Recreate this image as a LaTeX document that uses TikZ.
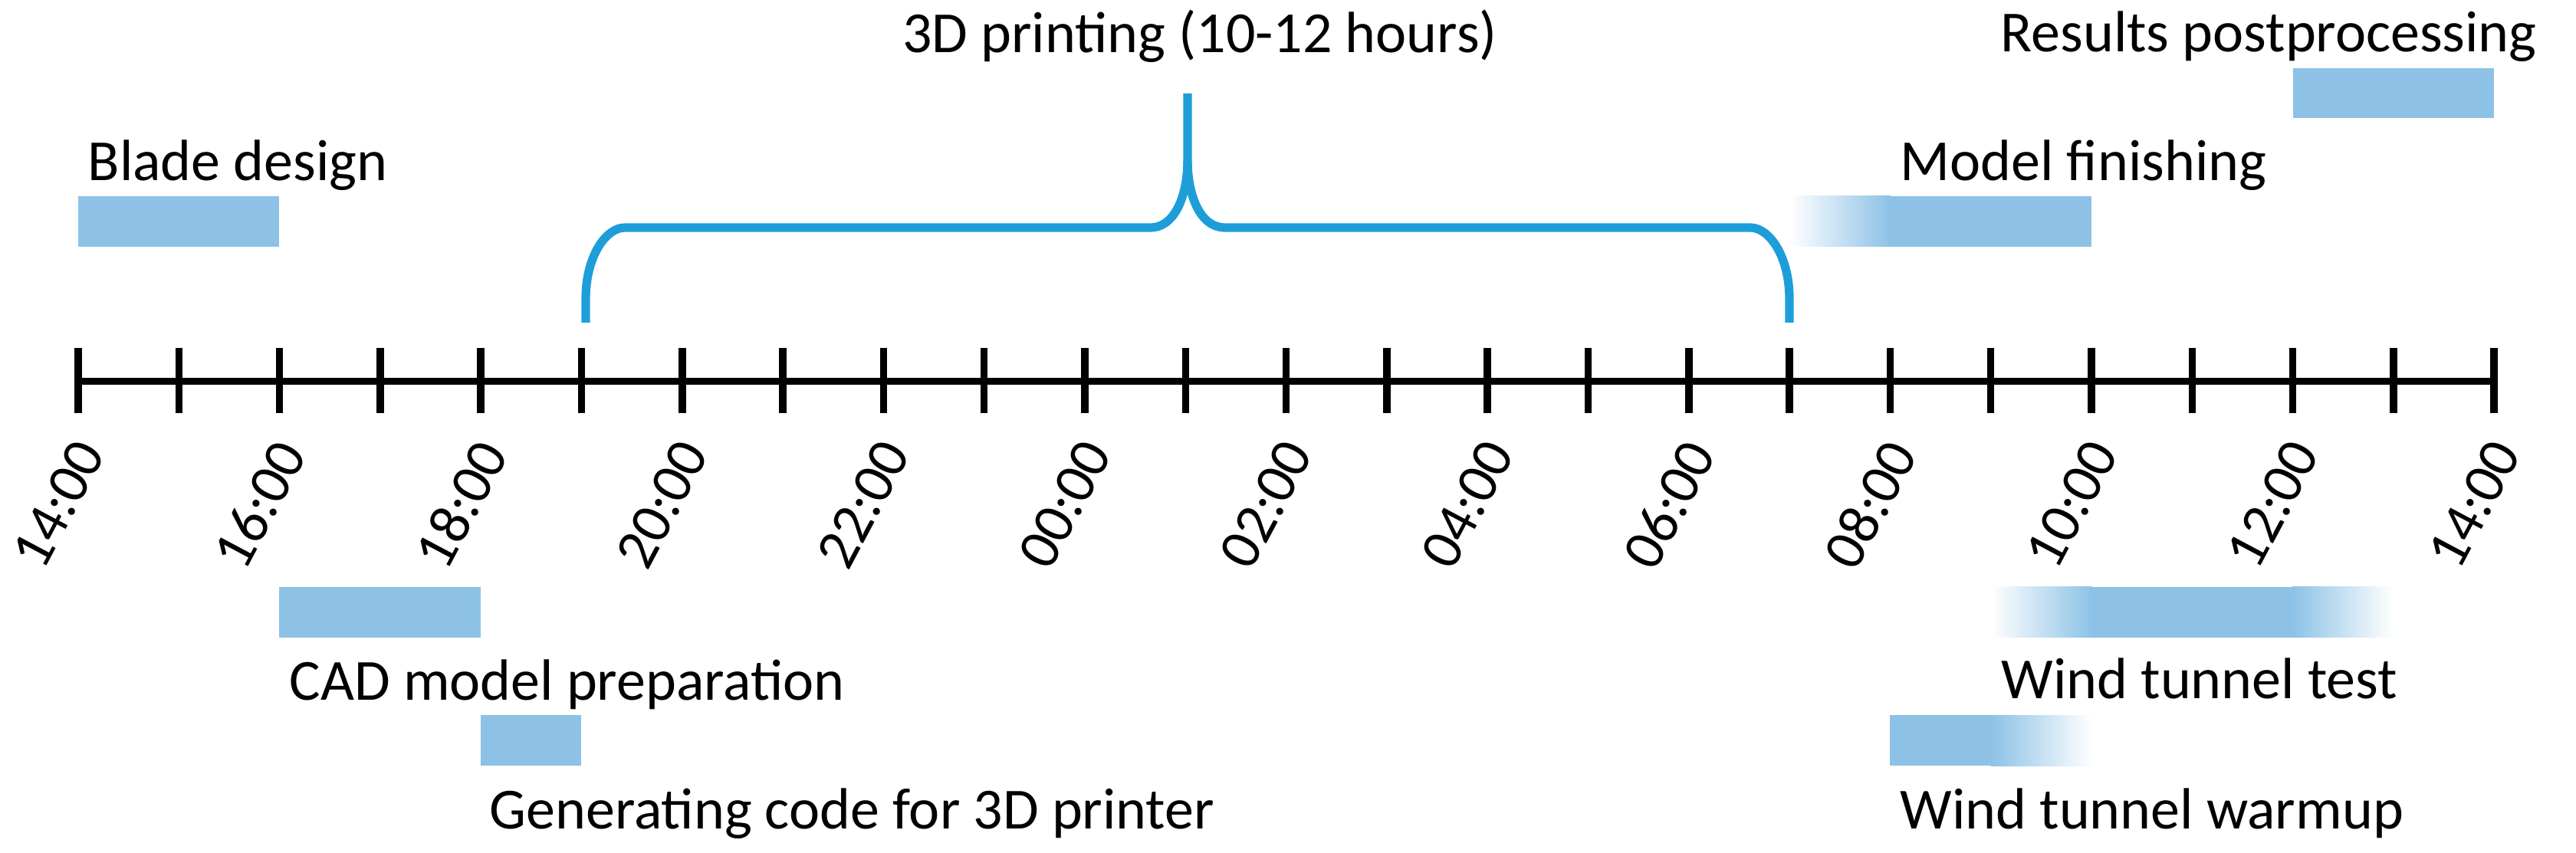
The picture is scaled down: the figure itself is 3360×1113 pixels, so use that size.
\documentclass[tikz,border=0pt]{standalone}
\usepackage{fontspec}
\setmainfont{Carlito}
\definecolor{barblue}{RGB}{141,194,230}
\definecolor{bracecol}{RGB}{29,158,217}
\begin{document}
\begin{tikzpicture}[x=0.01cm,y=-0.01cm,
  lbl/.style={font=\fontsize{21.6}{26}\selectfont, inner sep=0pt, anchor=base west},
  toplbl/.style={font=\fontsize{21.6}{26}\selectfont, inner sep=0pt, anchor=base},
  axisline/.style={line width=2.7pt, black},
  ticklbl/.style={font=\fontsize{21.6}{26}\selectfont, inner sep=0pt, anchor=east, rotate=62},
  bar/.style={fill=barblue},
  bracestyle/.style={draw=bracecol, line width=3.2pt, line join=round}]
\useasboundingbox (0,0) rectangle (3360,1113);
% axis
\draw[axisline] (102,497.5) -- (3253,497.5);
\foreach \i in {0,...,24} \draw[axisline] ({102+131.3*\i},454) -- ({102+131.3*\i},539);
% tick labels
\foreach \i/\t in {0/14:00,2/16:00,4/18:00,6/20:00,8/22:00,10/00:00,12/02:00,14/04:00,16/06:00,18/08:00,20/10:00,22/12:00,24/14:00}
  \node[ticklbl] (tl\i) at ({117+131.3*\i},581) {\t};
% bars
\fill[bar] (102,256) rectangle (364,322);
\fill[bar] (364,766) rectangle (627,832);
\fill[bar] (627,933) rectangle (758,999);
\fill[bar] (2991,89) rectangle (3253,154);
\shade[left color=white, right color=barblue] (2334,256) rectangle (2466,322);
\fill[bar] (2465,256) rectangle (2728,322);
\shade[left color=white, right color=barblue] (2597,766) rectangle (2729,832);
\fill[bar] (2728,766) rectangle (2991,832);
\shade[left color=barblue, right color=white] (2990,766) rectangle (3122,832);
\fill[bar] (2465,933) rectangle (2598,999);
\shade[left color=barblue, right color=white] (2597,933) rectangle (2728,999);
% brace
\draw[bracestyle] (764,421) -- (764,390) .. controls (764,335) and (790,297) .. (815,297) -- (1500,297)
  .. controls (1535,297) and (1549,250) .. (1549,210) -- (1549,122);
\draw[bracestyle] (2334,421) -- (2334,390) .. controls (2334,335) and (2308,297) .. (2283,297) -- (1598,297)
  .. controls (1563,297) and (1549,250) .. (1549,210);
% labels
\node[toplbl] (print) at (1565,69) {3D printing (10-12 hours)};
\node[lbl] (blade) at (114,236) {Blade design};
\node[lbl] (finish) at (2478,236) {Model finishing};
\node[lbl] (results) at (2609,68) {Results postprocessing};
\node[lbl] (cad) at (377,913) {CAD model preparation};
\node[lbl] (gcode) at (638,1081) {Generating code for 3D printer};
\node[lbl] (wtest) at (2610,912) {Wind tunnel test};
\node[lbl] (warm) at (2478,1081) {Wind tunnel warmup};
\end{tikzpicture}
\end{document}
